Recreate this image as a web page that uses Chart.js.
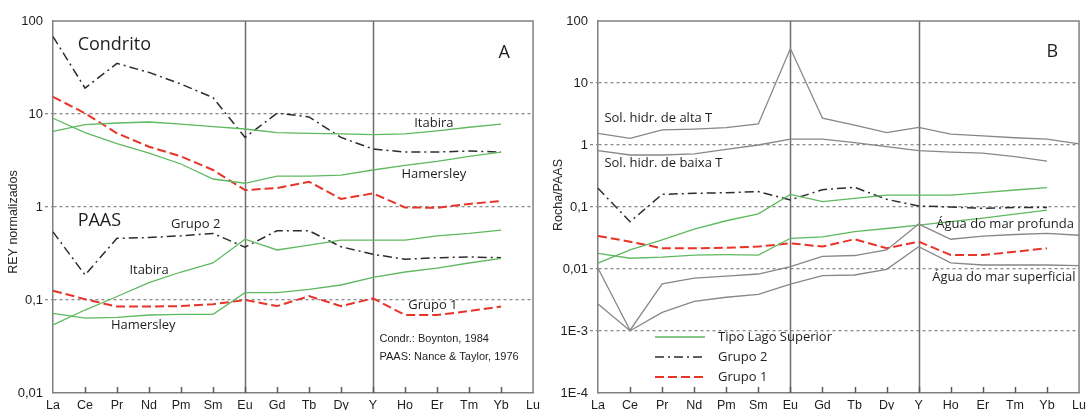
<!DOCTYPE html>
<html><head><meta charset="utf-8">
<script src="https://cdn.jsdelivr.net/npm/chart.js@4/dist/chart.umd.min.js"></script>
<style>
html,body{margin:0;padding:0;background:#fff;overflow:hidden;}
#wrap{position:relative;width:1091px;height:410px;}
#ca{position:absolute;left:0;top:0;}
#cb{position:absolute;left:545px;top:0;}
</style></head><body>
<div id="wrap"><canvas id="ca" width="545" height="410"></canvas><canvas id="cb" width="546" height="410"></canvas></div>
<script>
// ---- categories & tick labels ----
const elements = ['La','Ce','Pr','Nd','Pm','Sm','Eu','Gd','Tb','Dy','Y','Ho','Er','Tm','Yb','Lu'];
const tickValuesA = [0.01, 0.1, 1, 10, 100];
const tickTextA   = ['0,01','0,1','1','10','100'];
const tickValuesB = [0.0001, 0.001, 0.01, 0.1, 1, 10, 100];
const tickTextB   = ['1E-4','1E-3','0,01','0,1','1','10','100'];

// ---- Panel A: chondrite-normalised ----
const condItabira   = [6.5,7.7,8.0,8.2,7.8,7.3,6.9,6.3,6.2,6.1,6.0,6.1,6.6,7.2,7.8,null];
const condHamersley = [9.0,6.3,4.8,3.8,2.9,2.0,1.8,2.15,2.15,2.2,2.5,2.8,3.1,3.5,3.9,null];
const condGrupo2    = [68,19,35,28,21,15,5.6,10.2,9.3,5.6,4.2,3.9,3.9,4.0,3.9,null];
const condGrupo1    = [15.3,10.2,6.2,4.45,3.5,2.5,1.52,1.6,1.87,1.22,1.4,0.99,0.98,1.08,1.16,null];
// ---- Panel A: PAAS-normalised ----
const paasItabira   = [0.054,0.078,0.109,0.154,0.2,0.25,0.45,0.345,0.39,0.44,0.44,0.44,0.49,0.52,0.565,null];
const paasHamersley = [0.072,0.064,0.065,0.069,0.07,0.07,0.12,0.12,0.13,0.145,0.175,0.2,0.22,0.25,0.28,null];
const paasGrupo2    = [0.54,0.186,0.46,0.47,0.49,0.52,0.37,0.556,0.556,0.374,0.31,0.274,0.285,0.29,0.285,null];
const paasGrupo1    = [0.126,0.102,0.085,0.085,0.086,0.09,0.1,0.086,0.11,0.086,0.104,0.069,0.069,0.076,0.085,null];

// ---- Panel B: Rocha/PAAS ----
const solAltaT      = [1.54,1.28,1.75,1.8,1.9,2.18,36,2.7,2.1,1.58,1.93,1.5,1.4,1.31,1.24,1.04];
const solBaixaT     = [0.81,0.69,0.69,0.72,0.85,1.0,1.24,1.24,1.09,0.94,0.81,0.77,0.74,0.65,0.55,null];
const bGrupo2       = [0.2,0.058,0.16,0.166,0.17,0.177,0.13,0.19,0.208,0.133,0.104,0.1,0.095,0.098,0.098,null];
const lagoItabira   = [0.0124,0.0203,0.0294,0.0438,0.06,0.0774,0.16,0.122,0.138,0.156,0.156,0.156,0.17,0.188,0.205,null];
const lagoHamersley = [0.0178,0.0149,0.0155,0.0168,0.017,0.0168,0.0313,0.033,0.04,0.045,0.051,0.058,0.066,0.077,0.089,null];
const bGrupo1       = [0.034,0.0276,0.0216,0.0216,0.022,0.023,0.026,0.023,0.0302,0.0216,0.0276,0.0168,0.0168,0.019,0.0216,null];
const marProfunda   = [0.0103,0.00103,0.00574,0.0071,0.0077,0.0083,0.0109,0.016,0.0165,0.0203,0.053,0.0302,0.034,0.036,0.0376,0.035];
const marSuperficial= [0.00272,0.00101,0.002,0.003,0.0035,0.0039,0.0057,0.0078,0.008,0.0099,0.0229,0.0126,0.0116,0.0116,0.0116,0.0113];

// ---- text notes (data coordinates: category index, value) ----
const notesA = [
  ['Condrito', 0.77, 56, 'left', 18],
  ['A', 14.1, 45, 'center', 18],
  ['Itabira', 11.9, 8.0, 'center', 13],
  ['Hamersley', 11.9, 2.26, 'center', 13],
  ['PAAS', 0.77, 0.707, 'left', 18],
  ['Grupo 2', 4.46, 0.656, 'center', 13],
  ['Itabira', 3.0, 0.21, 'center', 13],
  ['Hamersley', 2.82, 0.054, 'center', 13],
  ['Grupo 1', 11.87, 0.088, 'center', 13],
  ['Condr.: Boynton, 1984', 10.2, 0.038, 'left', -11],
  ['PAAS: Nance & Taylor, 1976', 10.2, 0.0244, 'left', -11]
];
const notesB = [
  ['Sol. hidr. de alta T', 0.2, 2.73, 'left', 13],
  ['Sol. hidr. de baixa T', 0.2, 0.51, 'left', 13],
  ['B', 14.17, 31.6, 'center', 18],
  ['Água do mar profunda', 10.55, 0.053, 'left', 13],
  ['Água do mar superficial', 10.42, 0.0074, 'left', 13]
];
const legendB = ['Tipo Lago Superior','Grupo 2','Grupo 1'];

const GREEN = 'rgb(95,185,95)', RED = 'rgb(232,52,40)', DARK = 'rgb(45,45,45)', GRAY = 'rgb(135,135,135)';
const AXIS = 'rgb(128,128,128)';
const NOTE_FONT = '"Open Sans", "Noto Sans", sans-serif';
const TICK_FONT = '"Liberation Sans", Arial, sans-serif';

function ds(label, data, kind, legend) {
  const base = {label, data, fill:false, pointRadius:0, tension:0, spanGaps:false, legendName: legend||null};
  if (kind==='green') return Object.assign(base,{borderColor:GREEN,borderWidth:1.3});
  if (kind==='gray') return Object.assign(base,{borderColor:GRAY,borderWidth:1.3});
  if (kind==='red') return Object.assign(base,{borderColor:RED,borderWidth:2,borderDash:[9,4]});
  return Object.assign(base,{borderColor:DARK,borderWidth:1.5,borderDash:[9,4,2,4]});
}

const framePlugin = {
  id:'frame',
  beforeDatasetsDraw(chart){
    const {ctx, chartArea:a, scales:{x}} = chart;
    ctx.save();
    ctx.strokeStyle = 'rgb(110,110,110)'; ctx.lineWidth = 1.5;
    ['Eu','Y'].forEach(c=>{
      const px = Math.round(x.getPixelForValue(elements.indexOf(c)))+0.5;
      ctx.beginPath(); ctx.moveTo(px,a.top); ctx.lineTo(px,a.bottom); ctx.stroke();
    });
    ctx.restore();
  },
  afterDraw(chart){
    const {ctx, chartArea:a, scales:{x,y}} = chart;
    const o = chart.options.plugins.frame;
    ctx.save();
    ctx.strokeStyle = AXIS; ctx.lineWidth = 1.5;
    ctx.beginPath();
    ctx.moveTo(a.left,a.top); ctx.lineTo(a.right,a.top); ctx.lineTo(a.right,a.bottom);
    ctx.stroke();
    // inside tick marks
    ctx.strokeStyle = 'rgb(90,90,90)'; ctx.lineWidth = 1.5;
    for (let i=1;i<elements.length-1;i++){
      const px = Math.round(x.getPixelForValue(i))+0.5;
      ctx.beginPath(); ctx.moveTo(px,a.bottom); ctx.lineTo(px,a.bottom-6); ctx.stroke();
    }
    // y-axis title
    ctx.save();
    ctx.fillStyle = 'rgb(40,40,40)';
    ctx.font = '12.5px ' + TICK_FONT;
    ctx.textAlign = 'center'; ctx.textBaseline = 'middle';
    ctx.translate(14, o.titleY);
    ctx.rotate(-Math.PI/2);
    ctx.fillText(o.title, 0, 0);
    ctx.restore();
    // notes
    ctx.fillStyle = 'rgb(30,30,30)'; ctx.textBaseline = 'middle';
    (o.notes||[]).forEach(([t,i,v,al,sz])=>{
      ctx.font = sz<0 ? (-sz)+'px ' + TICK_FONT : sz+'px '+NOTE_FONT;
      ctx.textAlign = al;
      ctx.fillText(t, x.getPixelForValue(i), y.getPixelForValue(v));
    });
    // legend
    if (o.legend){
      o.legend.forEach((name,k)=>{
        const d = chart.data.datasets.find(s=>s.legendName===name);
        const ly = a.bottom - 56 + k*20;
        const lx = a.left + 57;
        ctx.save();
        ctx.strokeStyle = d.borderColor; ctx.lineWidth = d.borderWidth;
        ctx.setLineDash(d.borderDash||[]);
        ctx.beginPath(); ctx.moveTo(lx,ly); ctx.lineTo(lx+50,ly); ctx.stroke();
        ctx.restore();
        ctx.font = '13px '+NOTE_FONT; ctx.textAlign='left';
        ctx.fillText(name, lx+63, ly);
      });
    }
    ctx.restore();
  }
};

function makeChart(id, datasets, tv, tt, minV, maxV, title, titleY, notes, legend){
  return new Chart(document.getElementById(id), {
    type:'line',
    data:{labels:elements, datasets},
    options:{
      responsive:false, animation:false, events:[],
      layout:{padding:{top:21,right:8,left:0,bottom:0}},
      plugins:{legend:{display:false}, tooltip:{enabled:false}, frame:{notes, legend, title, titleY}},
      scales:{
        x:{
          type:'category', offset:false,
          grid:{display:false, drawTicks:false},
          border:{display:true,color:AXIS,width:1.5},
          ticks:{autoSkip:false, maxRotation:0, padding:5, color:'rgb(30,30,30)', font:{family:TICK_FONT, size:12.5}},
          afterFit(s){ s.height = 17; }
        },
        y:{
          type:'logarithmic', min:minV, max:maxV,
          afterBuildTicks(s){ s.ticks = tv.map(v=>({value:v, major:true})); },
          grid:{
            color(c){ const v=c.tick&&c.tick.value; return (v===minV||v===maxV)?'rgba(0,0,0,0)':'rgb(140,140,140)'; },
            lineWidth:1.3, tickBorderDash:[3,3], tickLength:8, drawTicks:true
          },
          border:{display:true,color:AXIS,width:1.5, dash:[3,3]},
          ticks:{
            autoSkip:false, padding:2, color:'rgb(30,30,30)',
            font:{family:TICK_FONT, size:13},
            callback(v){ const k = tv.findIndex(t=>Math.abs(Math.log10(t)-Math.log10(v))<1e-6); return k>=0?tt[k]:''; }
          },
          title:{display:false},
          afterFit(s){ s.width = 53; }
        }
      }
    },
    plugins:[framePlugin]
  });
}

makeChart('ca', [
  ds('Itabira (condrito)', condItabira, 'green'),
  ds('Hamersley (condrito)', condHamersley, 'green'),
  ds('Itabira (PAAS)', paasItabira, 'green'),
  ds('Hamersley (PAAS)', paasHamersley, 'green'),
  ds('Grupo 2 (condrito)', condGrupo2, 'dashdot'),
  ds('Grupo 2 (PAAS)', paasGrupo2, 'dashdot'),
  ds('Grupo 1 (condrito)', condGrupo1, 'red'),
  ds('Grupo 1 (PAAS)', paasGrupo1, 'red')
], tickValuesA, tickTextA, 0.01, 100, 'REY normalizados', 222, notesA, null);

makeChart('cb', [
  ds('Sol. hidr. de alta T', solAltaT, 'gray'),
  ds('Sol. hidr. de baixa T', solBaixaT, 'gray'),
  ds('Água do mar profunda', marProfunda, 'gray'),
  ds('Água do mar superficial', marSuperficial, 'gray'),
  ds('Tipo Lago Superior (Itabira)', lagoItabira, 'green', 'Tipo Lago Superior'),
  ds('Tipo Lago Superior (Hamersley)', lagoHamersley, 'green'),
  ds('Grupo 2', bGrupo2, 'dashdot', 'Grupo 2'),
  ds('Grupo 1', bGrupo1, 'red', 'Grupo 1')
], tickValuesB, tickTextB, 0.0001, 100, 'Rocha/PAAS', 195, notesB, legendB);
</script>
</body></html>
